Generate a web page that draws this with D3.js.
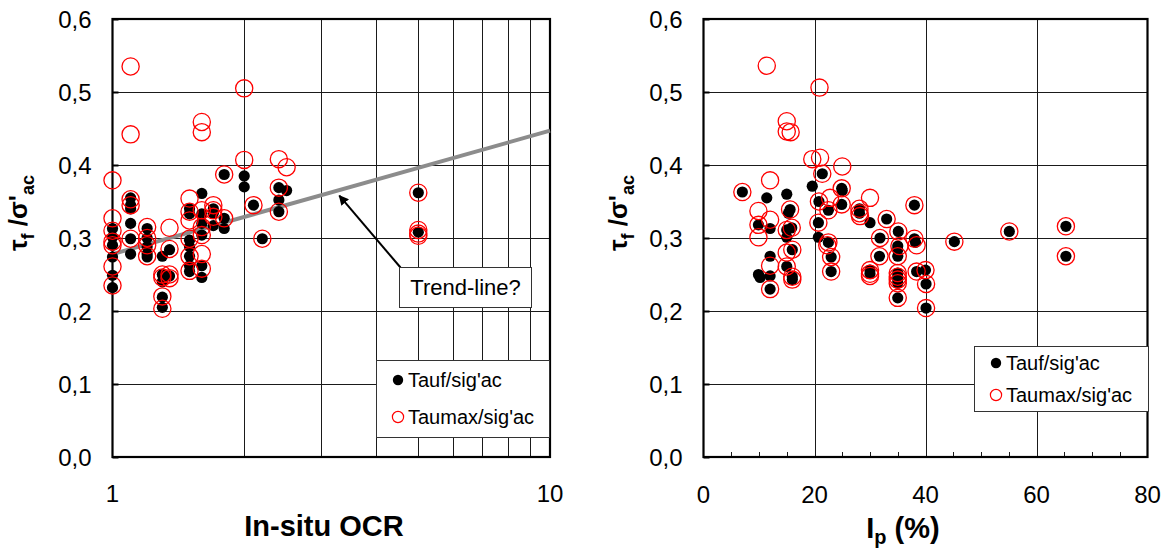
<!DOCTYPE html>
<html><head><meta charset="utf-8">
<script src="https://cdn.jsdelivr.net/npm/d3@7"></script>
<style>body{margin:0;background:#fff}svg{display:block}text{font-family:"Liberation Sans",Arial,sans-serif}</style>
</head><body><svg id="c" width="1166" height="550"></svg>
<script>
// ---------- DATA ----------
const seriesNames = ["Tauf/sig'ac", "Taumax/sig'ac"];
const yTicks = [0, 0.1, 0.2, 0.3, 0.4, 0.5, 0.6];
const ocrTicks = [1, 10];
const ocrGrid = [2, 3, 4, 5, 6, 7, 8, 9];
const ipTicks = [0, 20, 40, 60, 80];
const ipGrid = [20, 40, 60];
const ipMinor = [5, 10, 15, 25, 30, 35, 45, 50, 55, 65, 70, 75];

// Left chart: in-situ OCR vs tau_f / sigma'ac (filled black)
const ocrF = [1.0,1.0,1.0,1.0,1.0,1.0, 1.1,1.1,1.1,1.1,1.1,1.1, 1.2,1.2,1.2,1.2,1.2,
  1.3,1.3,1.3,1.3,1.3, 1.35,1.35, 1.5,1.5,1.5,1.5,1.5,1.5,1.5, 1.6,1.6,1.6,1.6,1.6,1.6,
  1.7,1.7,1.7, 1.8,1.8,1.8, 2.0,2.0, 2.1, 2.2, 2.4,2.4,2.4, 2.5, 5.0,5.0];
const tauF = [0.313,0.301,0.290,0.274,0.249,0.232, 0.355,0.345,0.340,0.320,0.299,0.278, 0.313,0.300,0.288,0.278,0.274,
  0.275,0.250,0.240,0.219,0.205, 0.284,0.248, 0.340,0.333,0.297,0.288,0.275,0.262,0.254, 0.361,0.333,0.320,0.304,0.262,0.246,
  0.340,0.334,0.317, 0.387,0.327,0.313, 0.385,0.370, 0.345, 0.299, 0.369,0.352,0.336, 0.365, 0.362,0.308];
// Left chart: Taumax (open red)
const ocrM = [1.0,1.0,1.0,1.0,1.0,1.0,1.0, 1.1,1.1,1.1,1.1,1.1, 1.2,1.2,1.2,1.2, 1.3,1.3,1.3,1.3,
  1.35,1.35,1.35,1.35, 1.5,1.5,1.5,1.5,1.5,1.5, 1.6,1.6,1.6,1.6,1.6,1.6,1.6, 1.7,1.7,1.7, 1.8,1.8,
  2.0,2.0, 2.1, 2.2, 2.4,2.4,2.4, 2.5, 5.0,5.0,5.0,5.0];
const tauM = [0.379,0.327,0.310,0.295,0.290,0.261,0.235, 0.535,0.442,0.353,0.345,0.299, 0.315,0.300,0.290,0.275, 0.250,0.246,0.220,0.203,
  0.314,0.285,0.250,0.245, 0.354,0.336,0.324,0.299,0.275,0.255, 0.459,0.445,0.338,0.315,0.304,0.278,0.258, 0.345,0.338,0.329, 0.387,0.327,
  0.505,0.407, 0.345, 0.299, 0.408,0.369,0.336, 0.397, 0.362,0.311,0.306,0.303];
// Trend line (straight on log axis) and its annotation
const trendX = [1, 10];
const trendY = [0.278, 0.447];
const trendLabel = "Trend-line?";
const arrowTarget = [3.3, 0.358];

// Right chart: Ip (%) vs ratio (filled black)
const ipF = [7,9.9,9.9,10.2,11.4,12,12,12,12, 15,15.6,15.3,15,15.9,15,16,15,16,16,
  19.6,21.4,20.8,20.7,20.7,22.5,22.5,23,23, 24.9,25,24.9,28.1,28.1,30,30,30,31.8,31.7,33,
  35.1,35,35,35,35,35,35,35,35, 38,38,38.2,38.4,40,40.1,40.1, 45.2,55.1,65.3,65.3];
const tauIpF = [0.363,0.318,0.250,0.246,0.355,0.313,0.275,0.248,0.230, 0.360,0.339,0.334,0.311,0.314,0.301,0.284,0.261,0.247,0.243,
  0.371,0.388,0.350,0.321,0.301,0.338,0.294,0.274,0.254, 0.368,0.365,0.346,0.340,0.334,0.321,0.256,0.251,0.300,0.275,0.326,
  0.309,0.289,0.284,0.275,0.252,0.247,0.243,0.238,0.218, 0.345,0.299,0.294,0.254,0.256,0.237,0.204, 0.295,0.309,0.316,0.275];
// Right chart: Taumax (open red)
const ipM = [7,9.9,9.9,9.9,11.4,12,12,12,12, 15,15,15.7,15.6,15,15.9,15,16,15,16,16,
  19.6,21,20.9,21.4,20.8,20.7,22.8,22.5,22.5,22.3,23,23, 25,24.9,24.9,28.1,28.1,28.2,30,30,30,30,31.8,31.7,33,
  35.1,35.3,35,35,35,35,35,35, 38,38,38.4,38.4,40,40.1,40.1, 45.2,55.1,65.3,65.3];
const tauIpM = [0.363,0.337,0.318,0.301,0.536,0.379,0.325,0.262,0.230, 0.460,0.446,0.445,0.339,0.311,0.314,0.280,0.284,0.261,0.247,0.243,
  0.408,0.410,0.506,0.388,0.350,0.321,0.355,0.338,0.294,0.290,0.274,0.254, 0.398,0.368,0.346,0.340,0.334,0.330,0.355,0.256,0.251,0.248,0.300,0.275,0.326,
  0.309,0.289,0.275,0.252,0.247,0.243,0.238,0.218, 0.345,0.299,0.290,0.254,0.256,0.237,0.204, 0.295,0.309,0.316,0.275];

// ---------- DRAW ----------
const svg = d3.select("#c");
const comma = v => d3.format(".1f")(v).replace(".", ",");
const plotTop = 19, plotBottom = 457;

function panel(cfg) {
  const g = svg.append("g");
  const x = cfg.x, y = cfg.y;
  const [x0, x1] = x.range();
  const snap = v => Math.round(v) + 0.5;
  // gridlines
  g.selectAll(".hg").data(yTicks.filter(t => t > 0 && t < 0.6)).join("line")
    .attr("x1", x0).attr("x2", x1).attr("y1", d => snap(y(d))).attr("y2", d => snap(y(d)))
    .attr("stroke", "#1a1a1a").attr("stroke-width", 1);
  g.selectAll(".vg").data(cfg.grid).join("line")
    .attr("x1", d => snap(x(d))).attr("x2", d => snap(x(d))).attr("y1", plotTop).attr("y2", plotBottom)
    .attr("stroke", "#1a1a1a").attr("stroke-width", 1);
  // minor ticks (bottom, inside)
  g.selectAll(".mt").data(cfg.minor || []).join("line")
    .attr("x1", d => snap(x(d))).attr("x2", d => snap(x(d))).attr("y1", plotBottom).attr("y2", plotBottom - 5)
    .attr("stroke", "#1a1a1a").attr("stroke-width", 1);
  // y tick marks inside
  g.selectAll(".yt").data(yTicks).join("line")
    .attr("x1", x0).attr("x2", x0 + 6).attr("y1", d => snap(y(d))).attr("y2", d => snap(y(d)))
    .attr("stroke", "#000").attr("stroke-width", 2);
  // frame
  g.append("rect").attr("x", x0).attr("y", plotTop).attr("width", x1 - x0).attr("height", plotBottom - plotTop)
    .attr("fill", "none").attr("stroke", "#000").attr("stroke-width", 2.2);
  // y labels
  g.selectAll(".yl").data(yTicks).join("text")
    .attr("x", x0 - 21).attr("y", d => y(d) + 8.5).attr("text-anchor", "end")
    .attr("font-size", 24).attr("fill", "#000").text(comma);
  // x labels
  g.selectAll(".xl").data(cfg.ticks).join("text")
    .attr("x", d => x(d)).attr("y", cfg.xlabY).attr("text-anchor", "middle")
    .attr("font-size", 24).attr("fill", "#000").text(d => d);
  cfg.extra && cfg.extra(g);
  // series: black dots then red rings
  g.selectAll(".pf").data(cfg.fx.map((v, i) => [v, cfg.fy[i]])).join("circle")
    .attr("cx", d => x(d[0])).attr("cy", d => y(d[1])).attr("r", 5.6).attr("fill", "#000");
  g.selectAll(".pm").data(cfg.mx.map((v, i) => [v, cfg.my[i]])).join("circle")
    .attr("cx", d => x(d[0])).attr("cy", d => y(d[1])).attr("r", 8.6)
    .attr("fill", "none").attr("stroke", "#ff0000").attr("stroke-width", 1.3);
  // y title
  const yt = g.append("text").attr("transform", `translate(${cfg.ytX},213) rotate(-90)`)
    .attr("text-anchor", "middle").attr("font-weight", "bold").attr("font-size", 26).attr("fill", "#000");
  yt.append("tspan").text("τ");
  yt.append("tspan").attr("font-size", 18).attr("dy", 7).text("f");
  yt.append("tspan").attr("dy", -7).text(" /σ'");
  yt.append("tspan").attr("font-size", 18).attr("dy", 7).text("ac");
  // x title
  cfg.xtitle(g);
  // legend
  const L = cfg.legend;
  g.append("rect").attr("x", L.x + 0.5).attr("y", L.y + 0.5).attr("width", L.w).attr("height", L.h)
    .attr("fill", "#fff").attr("stroke", "#333").attr("stroke-width", 1);
  seriesNames.forEach((n, i) => {
    const cy = L.y + L.r0 + i * L.dr;
    if (i === 0) g.append("circle").attr("cx", L.x + 22).attr("cy", cy).attr("r", 5.2).attr("fill", "#000");
    else g.append("circle").attr("cx", L.x + 22).attr("cy", cy).attr("r", 5.6).attr("fill", "none")
      .attr("stroke", "#ff0000").attr("stroke-width", 1.2);
    g.append("text").attr("x", L.x + 32).attr("y", cy + 7).attr("font-size", 20).attr("fill", "#000").text(n);
  });
}

const xL = d3.scaleLog().domain([1, 10]).range([112.5, 550]);
const yL = d3.scaleLinear().domain([0, 0.6]).range([plotBottom, plotTop]);
const xR = d3.scaleLinear().domain([0, 80]).range([703.5, 1147.5]);

panel({
  x: xL, y: yL, grid: ocrGrid, ticks: ocrTicks, xlabY: 502, ytX: 27,
  fx: ocrF, fy: tauF, mx: ocrM, my: tauM,
  legend: {x: 376, y: 360, w: 173, h: 77, r0: 20, dr: 37},
  extra: g => {
    g.append("path").datum(trendX.map((v, i) => [v, trendY[i]]))
      .attr("d", d3.line().x(d => xL(d[0])).y(d => yL(d[1])))
      .attr("stroke", "#8c8c8c").attr("stroke-width", 4).attr("fill", "none");
  },
  xtitle: g => g.append("text").attr("x", 324).attr("y", 536).attr("text-anchor", "middle")
    .attr("font-weight", "bold").attr("font-size", 29).attr("fill", "#000").text("In-situ OCR")
});

panel({
  x: xR, y: yL, grid: ipGrid, minor: ipMinor, ticks: ipTicks, xlabY: 503, ytX: 627,
  fx: ipF, fy: tauIpF, mx: ipM, my: tauIpM,
  legend: {x: 974, y: 346, w: 174, h: 65, r0: 17, dr: 32},
  xtitle: g => {
    const t = g.append("text").attr("x", 903).attr("y", 538).attr("text-anchor", "middle")
      .attr("font-weight", "bold").attr("font-size", 29).attr("fill", "#000");
    t.append("tspan").text("I");
    t.append("tspan").attr("font-size", 20).attr("dy", 6).text("p");
    t.append("tspan").attr("dy", -6).text(" (%)");
  }
});

// annotation
const defs = svg.append("defs");
defs.append("marker").attr("id", "ah").attr("viewBox", "0 0 10 10").attr("refX", 9).attr("refY", 5)
  .attr("markerWidth", 5).attr("markerHeight", 5).attr("orient", "auto")
  .append("path").attr("d", "M0,0 L10,5 L0,10 z").attr("fill", "#000");
const bx = 399.5, by = 267.5, bw = 132, bh = 40;
svg.append("line").attr("x1", bx + 1).attr("y1", by).attr("x2", xL(arrowTarget[0])).attr("y2", yL(arrowTarget[1]))
  .attr("stroke", "#000").attr("stroke-width", 2).attr("marker-end", "url(#ah)");
svg.append("rect").attr("x", bx).attr("y", by).attr("width", bw).attr("height", bh)
  .attr("fill", "#fff").attr("stroke", "#333").attr("stroke-width", 1);
svg.append("text").attr("x", bx + bw / 2).attr("y", by + 27).attr("text-anchor", "middle")
  .attr("font-size", 22).attr("fill", "#000").text(trendLabel);
</script></body></html>
